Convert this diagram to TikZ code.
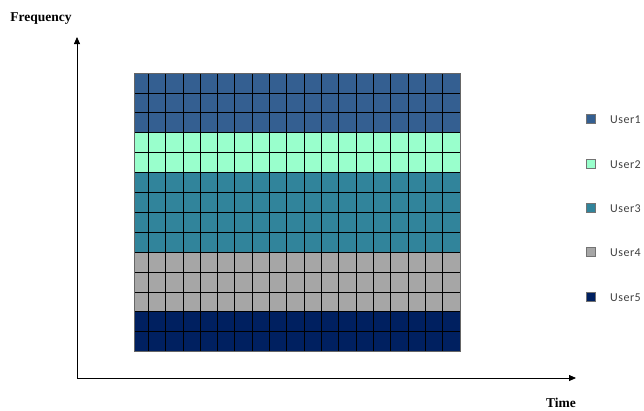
\documentclass[tikz,border=0pt]{standalone}
\usepackage{fontspec}
\setmainfont{Liberation Serif}
\newfontfamily\legfont[LetterSpace=4]{Carlito}
\usetikzlibrary{arrows.meta}
\definecolor{uone}{RGB}{52,95,145}
\definecolor{utwo}{RGB}{153,255,204}
\definecolor{uthree}{RGB}{49,132,155}
\definecolor{ufour}{RGB}{166,166,166}
\definecolor{ufive}{RGB}{0,32,96}
\tikzset{
  gridline/.style={black,line width=0.8pt},
  axisline/.style={black,line width=0.8pt,-{Triangle[length=7pt,width=6pt]}},
  axislabel/.style={font=\fontsize{13.5}{15}\selectfont\bfseries,inner sep=0pt},
  legbox/.style={draw=black!55,line width=0.7pt,minimum size=9pt,inner sep=0pt},
  legtext/.style={font=\legfont\fontsize{12}{14}\selectfont,text=black!75,inner sep=0pt,anchor=west}
}
\begin{document}
\begin{tikzpicture}[x=1pt,y=-1pt]
\useasboundingbox (0,0) rectangle (644,410);
% bands
\fill[uone]   (134,73) rectangle (460,{73+3*19.9});
\fill[utwo]   (134,{73+3*19.9}) rectangle (460,{73+5*19.9});
\fill[uthree] (134,{73+5*19.9}) rectangle (460,{73+9*19.9});
\fill[ufour]  (134,{73+9*19.9}) rectangle (460,{73+12*19.9});
\fill[ufive]  (134,{73+12*19.9}) rectangle (460,{73+14*19.9});
% grid
\foreach \i in {1,...,13} \draw[gridline] (134,{73+\i*19.9}) -- (460,{73+\i*19.9});
\foreach \i in {0,...,17} \draw[gridline] ({148.3+\i*17.317},73) -- ({148.3+\i*17.317},{73+14*19.9});
\draw[black!60,line width=1pt] (134,73) rectangle (460,{73+14*19.9});
% axes
\coordinate (O) at (77,378);
\coordinate (ytip) at (77,37);
\coordinate (xtip) at (576,378);
\draw[axisline] (O) -- (ytip);
\draw[axisline] (O) -- (xtip);
\node[axislabel] (freq) at (41,19) {Frequency};
\node[axislabel] (time) at (561,403) {Time};
% legend
\node[legbox,fill=uone]   (k1) at (591,119) {};
\node[legbox,fill=utwo]   (k2) at (591,164) {};
\node[legbox,fill=uthree] (k3) at (591,208) {};
\node[legbox,fill=ufour]  (k4) at (591,252) {};
\node[legbox,fill=ufive]  (k5) at (591,297) {};
\node[legtext] (t1) at (610,120) {User1};
\node[legtext] (t2) at (610,165) {User2};
\node[legtext] (t3) at (610,209) {User3};
\node[legtext] (t4) at (610,253) {User4};
\node[legtext] (t5) at (610,298) {User5};
\end{tikzpicture}
\end{document}
